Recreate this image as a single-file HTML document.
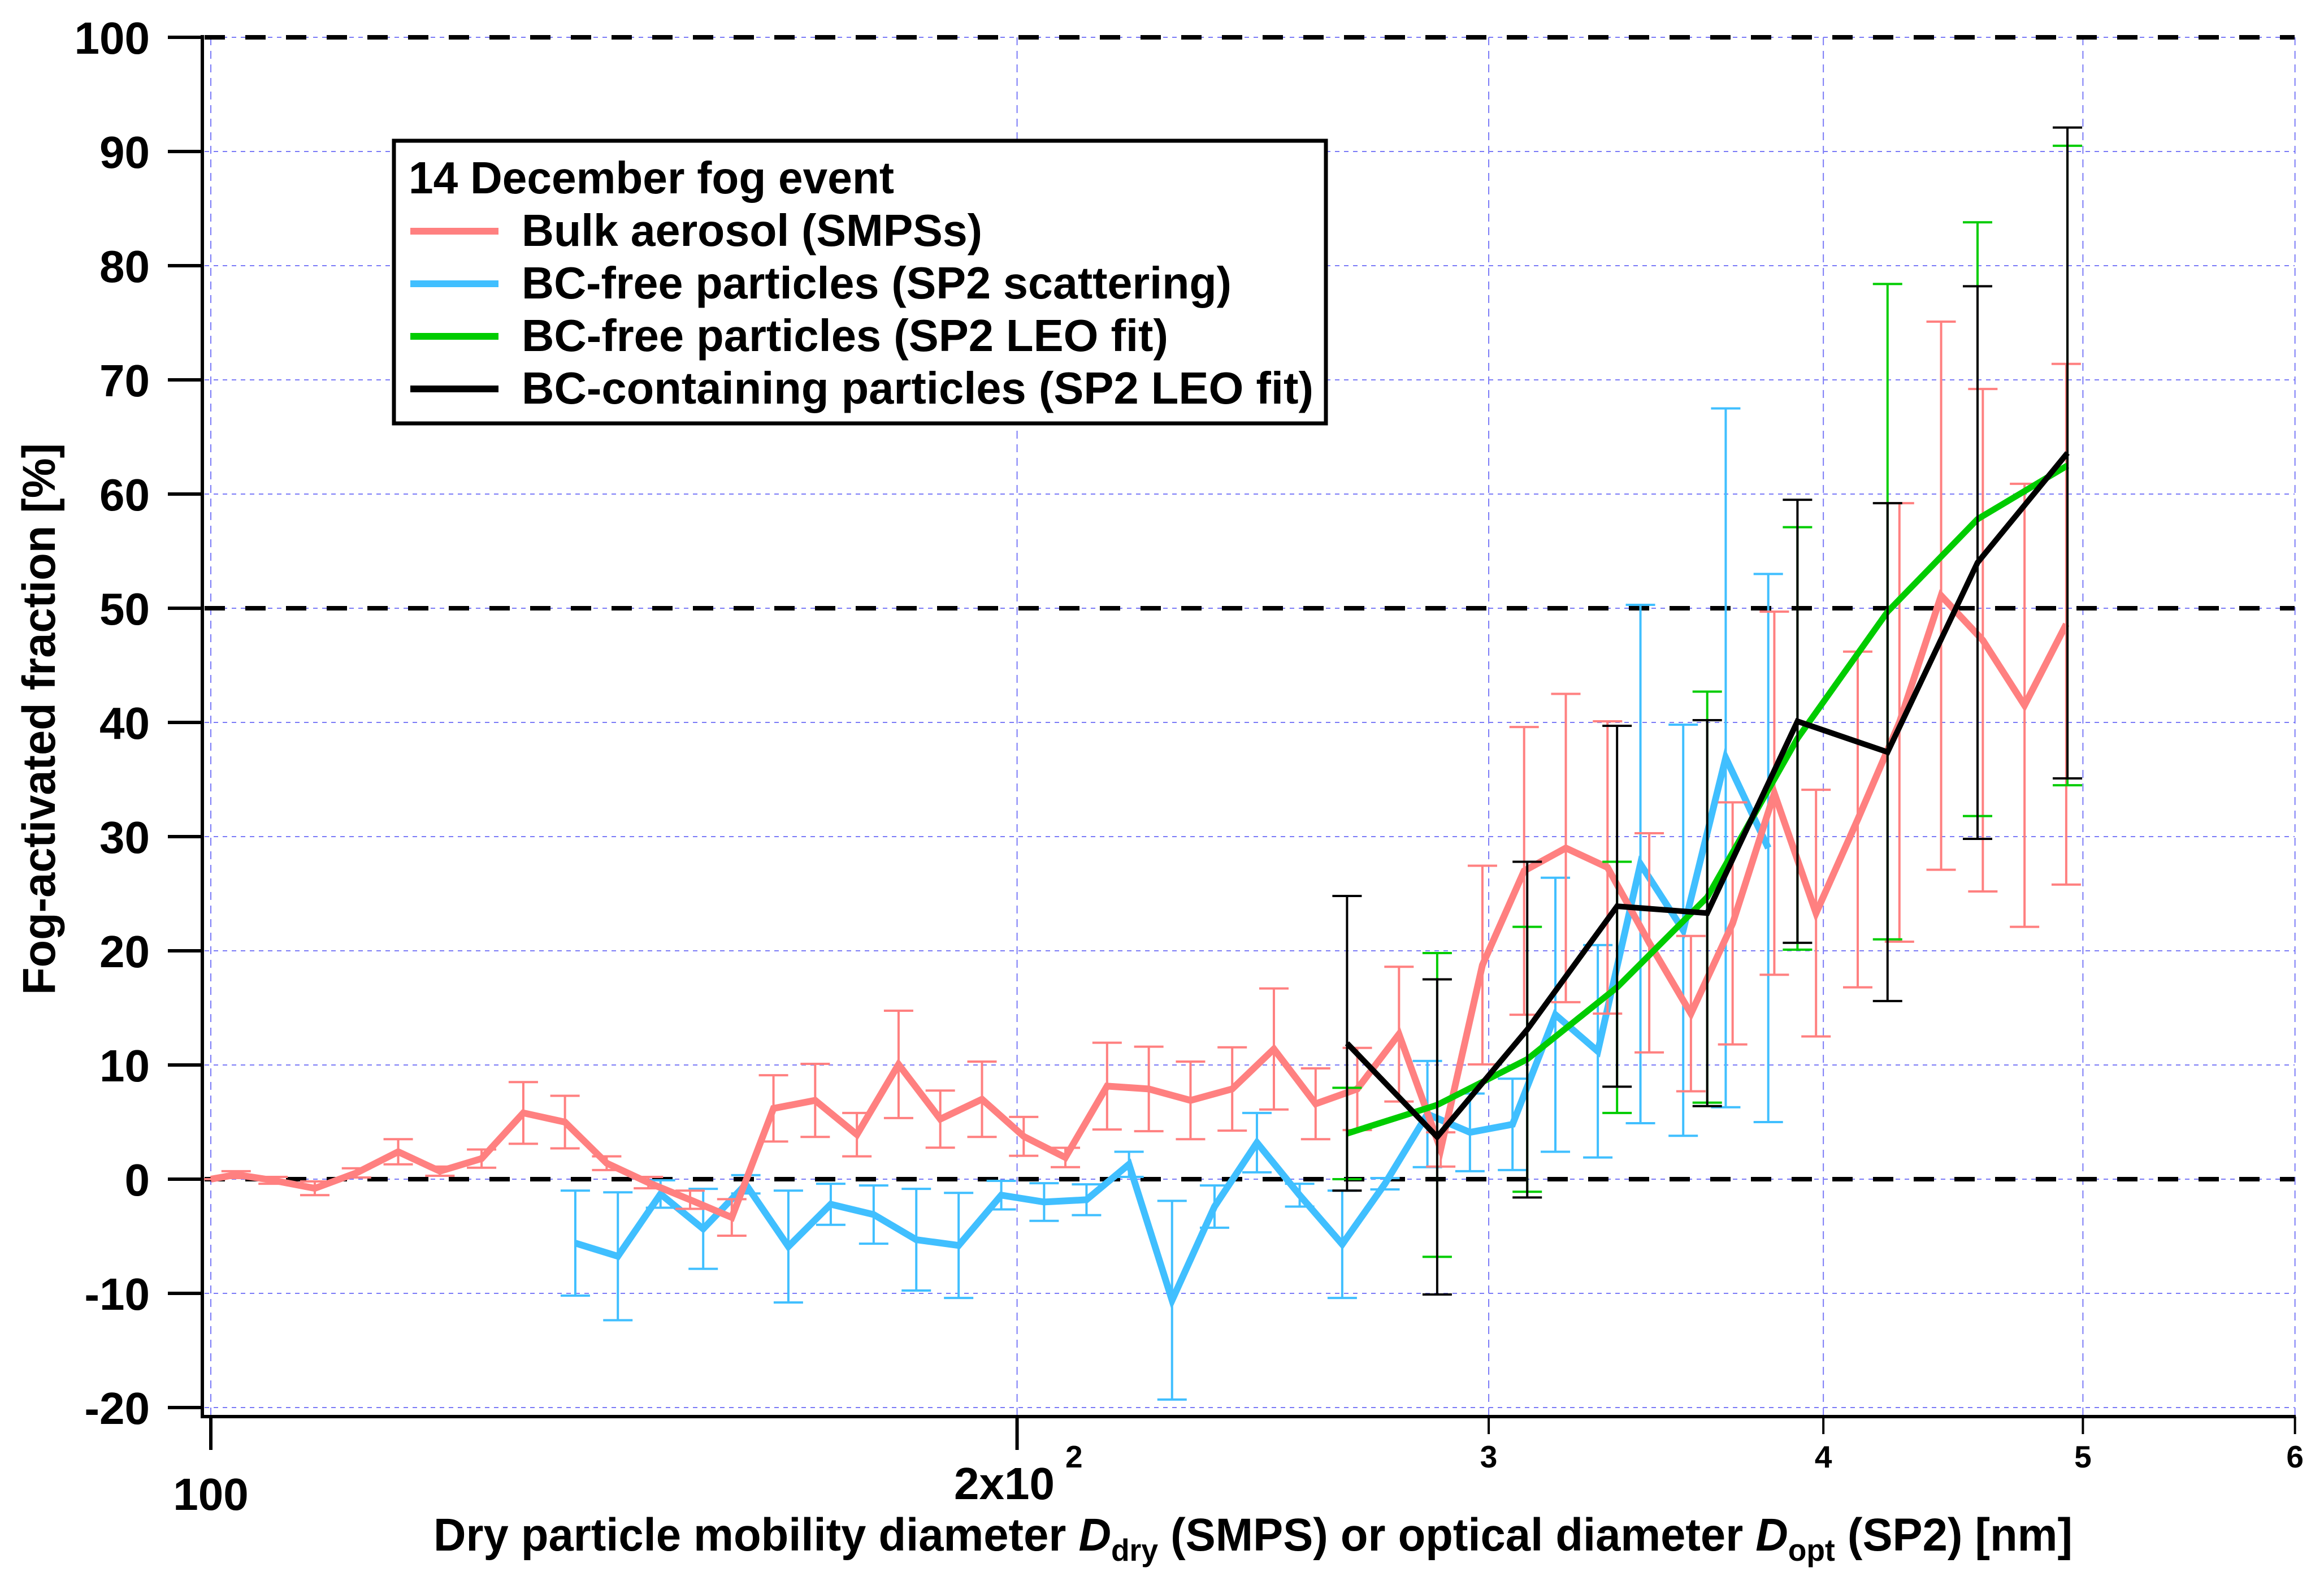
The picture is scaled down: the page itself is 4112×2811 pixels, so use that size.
<!DOCTYPE html>
<html><head><meta charset="utf-8"><style>
html,body{margin:0;padding:0;background:#fff;}
svg{display:block;font-family:"Liberation Sans",Arial,sans-serif;font-weight:bold;}
</style></head><body>
<svg id="chart" width="4112" height="2811" viewBox="0 0 4112 2811" xmlns="http://www.w3.org/2000/svg">
<g id="grid"></g>
<g id="refs"></g>
<g id="series"></g>
<g id="axes"></g>
<text transform="translate(97,1272) rotate(-90)" text-anchor="middle" font-size="82" textLength="976" lengthAdjust="spacingAndGlyphs">Fog-activated fraction [%]</text>
<text x="767" y="2743" font-size="82" textLength="2900" lengthAdjust="spacingAndGlyphs">Dry particle mobility diameter <tspan font-style="italic">D</tspan><tspan font-size="55" dy="18">dry</tspan><tspan dy="-18"> (SMPS) or optical diameter </tspan><tspan font-style="italic">D</tspan><tspan font-size="55" dy="18">opt</tspan><tspan dy="-18"> (SP2) [nm]</tspan></text>
<g>
<rect x="697" y="249" width="1649" height="500" fill="#fff" stroke="#000" stroke-width="7"/>
<text x="723" y="342" font-size="80" textLength="859" lengthAdjust="spacingAndGlyphs">14 December fog event</text>
<line x1="726" x2="882" y1="409" y2="409" stroke="#ff8080" stroke-width="12"/>
<text x="923" y="435" font-size="80" textLength="815" lengthAdjust="spacingAndGlyphs">Bulk aerosol (SMPSs)</text>
<line x1="726" x2="882" y1="502" y2="502" stroke="#40bfff" stroke-width="12"/>
<text x="923" y="528" font-size="80" textLength="1256" lengthAdjust="spacingAndGlyphs">BC-free particles (SP2 scattering)</text>
<line x1="726" x2="882" y1="595" y2="595" stroke="#00cc00" stroke-width="12"/>
<text x="923" y="621" font-size="80" textLength="1144" lengthAdjust="spacingAndGlyphs">BC-free particles (SP2 LEO fit)</text>
<line x1="726" x2="882" y1="688" y2="688" stroke="#000" stroke-width="12"/>
<text x="923" y="714" font-size="80" textLength="1401" lengthAdjust="spacingAndGlyphs">BC-containing particles (SP2 LEO fit)</text>
</g>
</svg>
<script>
// ---- data ----
const pinkD = [100, 102.2, 105.5, 109.35, 113.34, 117.48, 121.77, 126.21, 130.82, 135.59, 140.54, 145.67, 150.99, 156.50, 162.21, 168.13, 174.27, 180.63, 187.22, 194.06, 201.14, 208.48, 216.09, 223.98, 232.16, 240.63, 249.41, 258.52, 267.95, 277.73, 287.87, 298.38, 309.27, 320.56, 332.26, 344.39, 356.96, 369.99, 383.49, 397.49, 412.00, 427.04, 442.62, 458.78, 475.53, 492.88];
const pinkV = [0, 0.4, -0.1, -0.8, 0.55, 2.4, 0.7, 1.8, 5.8, 5.0, 1.4, -0.3, -1.8, -3.35, 6.2, 6.9, 3.9, 10.05, 5.26, 7.0, 3.75, 1.9, 8.15, 7.9, 6.9, 7.9, 11.4, 6.6, 7.9, 12.7, 2.6, 18.75, 27, 29, 27.3, 20.7, 14.5, 22.4, 33.8, 23.3, 31.5, 40, 51.1, 47.2, 41.5, 48.6];
const pinkE = [0, 0.3, 0.3, 0.6, 0.4, 1.1, 0.4, 0.8, 2.7, 2.3, 0.6, 0.5, 0.8, 1.6, 2.9, 3.2, 1.9, 4.7, 2.5, 3.3, 1.7, 0.85, 3.8, 3.7, 3.4, 3.65, 5.3, 3.1, 3.6, 5.9, 1.5, 8.7, 12.6, 13.5, 12.8, 9.6, 6.8, 10.6, 15.9, 10.8, 14.7, 19.2, 24, 22, 19.4, 22.8];
const blueD = [136.8, 141.9, 147.2, 152.7, 158.4, 164.3, 170.4, 176.8, 183.4, 190.2, 197.3, 204.7, 212.3, 220.2, 228.5, 237.0, 245.8, 255.0, 264.5, 274.4, 284.6, 295.2, 306.2, 317.7, 329.5, 341.8, 354.6, 367.8, 381.5];
const blueV = [-5.6, -6.75, -1.3, -4.35, -0.45, -5.9, -2.2, -3.1, -5.3, -5.8, -1.4, -2.0, -1.8, 1.3, -10.6, -2.4, 3.2, -1.4, -5.7, -0.4, 5.7, 4.1, 4.8, 14.4, 11.2, 27.6, 21.8, 36.9, 29.0];
const blueE = [4.6, 5.6, 1.2, 3.5, 0.8, 4.9, 1.8, 2.55, 4.45, 4.6, 1.25, 1.65, 1.35, 1.1, 8.7, 1.85, 2.6, 1.0, 4.7, 0.5, 4.65, 3.4, 4.0, 12, 9.3, 22.7, 18, 30.6, 24];
const leoD = [265.6, 287.0, 310.1, 335.0, 362.0, 391.2, 422.7, 456.7, 493.4];
const greenV = [4.0, 6.5, 10.5, 16.8, 24.7, 38.6, 49.7, 57.8, 62.5];
const greenE = [4, 13.3, 11.6, 11, 18, 18.5, 28.7, 26, 28];
const blackV = [11.9, 3.7, 13.1, 23.9, 23.3, 40.1, 37.4, 54, 63.6];
const blackE = [12.9, 13.8, 14.7, 15.8, 16.9, 19.4, 21.8, 24.2, 28.5];
const yTicks = [-20, -10, 0, 10, 20, 30, 40, 50, 60, 70, 80, 90, 100];
const xGrid = [100, 200, 300, 400, 500, 600];
const xSmallTicks = [300, 400, 500, 600];
const xSmallLabels = ["3", "4", "5", "6"];
const refLines = [0, 50, 100];

// ---- axes ----
const NS = "http://www.w3.org/2000/svg";
const X0 = 373, DEC = 4739, XR = 4060;
const Y100 = 66, PU = 20.2;
function sx(d){ return X0 + Math.log10(d/100)*DEC; }
function sy(v){ return Y100 + (100 - v)*PU; }
function mk(tag, attrs, parent){
  const e = document.createElementNS(NS, tag);
  for (const k in attrs) e.setAttribute(k, attrs[k]);
  parent.appendChild(e); return e;
}
const grid = document.getElementById('grid');
const refs = document.getElementById('refs');
const series = document.getElementById('series');
const axes = document.getElementById('axes');

yTicks.forEach(v => {
  const l = mk('line', {x1: 362, x2: XR, y1: sy(v), y2: sy(v), stroke: '#7b7bf7', 'stroke-width': 2, 'stroke-dasharray': '8 8'}, grid);
  
  
});
xGrid.forEach(d => {
  const l = mk('line', {x1: sx(d), x2: sx(d), y1: Y100, y2: 2503, stroke: '#7b7bf7', 'stroke-width': 2, 'stroke-dasharray': '14 10'}, grid);
  
  
});
refLines.forEach(v => {
  const l = mk('line', {x1: 362, x2: XR, y1: sy(v), y2: sy(v), stroke: '#000', 'stroke-width': 8, 'stroke-dasharray': '36 36'}, refs);
  
  
});

function errbars(D, V, E, color, name){
  const g = mk('g', {}, series);
  
  
  D.forEach((d, i) => {
    const x = sx(d), y1 = sy(V[i] + E[i]), y2 = sy(V[i] - E[i]);
    const p = mk('path', {d: `M${x},${y1}V${y2}M${x-26},${y1}H${x+26}M${x-26},${y2}H${x+26}`, stroke: color, 'stroke-width': 4, fill: 'none'}, g);
    
    
  });
}
function line(D, V, color, name, w){
  const pts = D.map((d, i) => sx(d).toFixed(1) + ',' + sy(V[i]).toFixed(1)).join(' ');
  const p = mk('polyline', {points: pts, fill: 'none', stroke: color, 'stroke-width': w, 'stroke-linejoin': 'miter'}, series);
  
  
}
errbars(blueD, blueV, blueE, '#40bfff', 'bc-free-scattering');
line(blueD, blueV, '#40bfff', 'bc-free-scattering', 12);
errbars(pinkD, pinkV, pinkE, '#ff8080', 'bulk-aerosol');
line(pinkD, pinkV, '#ff8080', 'bulk-aerosol', 12);
errbars(leoD, greenV, greenE, '#00cc00', 'bc-free-leo');
line(leoD, greenV, '#00cc00', 'bc-free-leo', 11);
errbars(leoD, blackV, blackE, '#000', 'bc-containing');
line(leoD, blackV, '#000', 'bc-containing', 10);

// axes lines
let a = mk('line', {x1: 358, x2: 358, y1: 62, y2: 2509, stroke: '#000', 'stroke-width': 6}, axes);


a = mk('line', {x1: 355, x2: XR + 2, y1: 2506, y2: 2506, stroke: '#000', 'stroke-width': 6}, axes);


yTicks.forEach(v => {
  const t = mk('line', {x1: 297, x2: 358, y1: sy(v), y2: sy(v), stroke: '#000', 'stroke-width': 6}, axes);
  
  
  const tx = mk('text', {x: 265, y: sy(v) + 29, 'text-anchor': 'end', 'font-size': 80}, axes);
  tx.textContent = String(v);
  
  
});
let t = mk('line', {x1: sx(100), x2: sx(100), y1: 2506, y2: 2565, stroke: '#000', 'stroke-width': 6}, axes);


t = mk('line', {x1: sx(200), x2: sx(200), y1: 2506, y2: 2565, stroke: '#000', 'stroke-width': 6}, axes);


xSmallTicks.forEach((d, i) => {
  const tk = mk('line', {x1: sx(d), x2: sx(d), y1: 2506, y2: 2537, stroke: '#000', 'stroke-width': 4}, axes);
  
  
  const tl = mk('text', {x: sx(d), y: 2596, 'text-anchor': 'middle', 'font-size': 55}, axes);
  tl.textContent = xSmallLabels[i];
  
  
});
let l100 = mk('text', {x: sx(100), y: 2671, 'text-anchor': 'middle', 'font-size': 80}, axes);
l100.textContent = '100';


let l200 = mk('text', {x: 1688, y: 2652, 'font-size': 80}, axes);
l200.textContent = '2x10';


let sup = mk('text', {x: 1885, y: 2596, 'font-size': 55}, axes);
sup.textContent = '2';


</script>
</body></html>
